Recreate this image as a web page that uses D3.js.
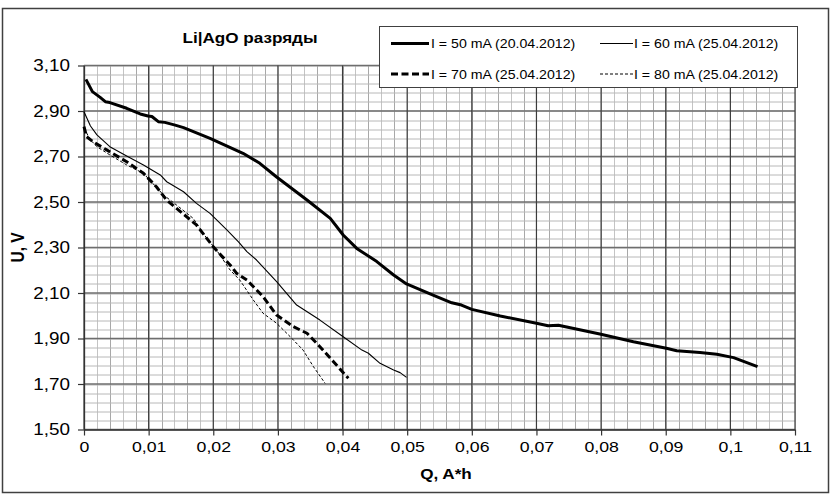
<!DOCTYPE html>
<html>
<head>
<meta charset="utf-8">
<script src="https://cdn.jsdelivr.net/npm/d3@7"></script>
<style>
  body { margin: 0; background: #fff; }
  text { font-family: Arial, "Liberation Sans", sans-serif; fill: #000; }
</style>
</head>
<body>
<div id="vis"></div>
<script>

const FRAME_WIDTH = 831;
const FRAME_HEIGHT = 495;
const MARGINS = {left: 84, right: 36, top: 65.5, bottom: 65.5};
const VIS_WIDTH = FRAME_WIDTH - MARGINS.left - MARGINS.right;
const VIS_HEIGHT = FRAME_HEIGHT - MARGINS.top - MARGINS.bottom;

// text in the picture looks stretched sideways a bit
const SX = 1.18;

// data: Q (A*h) and U (V) per discharge
const q50 = [0.0003, 0.0013, 0.0025, 0.0033, 0.0040, 0.0066, 0.0087, 0.0099, 0.0105, 0.0115,
             0.0125, 0.0141, 0.0154, 0.0195, 0.0246, 0.0272, 0.0298, 0.0345, 0.0381, 0.0401,
             0.0422, 0.0453, 0.0479, 0.0499, 0.0540, 0.0569, 0.0584, 0.0600, 0.0644, 0.0700,
             0.0718, 0.0734, 0.0798, 0.0850, 0.0901, 0.0917, 0.0953, 0.0979, 0.1005, 0.1042];
const u50 = [3.039, 2.985, 2.960, 2.941, 2.937, 2.912, 2.887, 2.878, 2.876, 2.853,
             2.850, 2.838, 2.827, 2.780, 2.714, 2.670, 2.610, 2.509, 2.428, 2.355,
             2.296, 2.238, 2.179, 2.140, 2.091, 2.057, 2.047, 2.028, 1.999, 1.967,
             1.956, 1.958, 1.920, 1.886, 1.857, 1.846, 1.838, 1.831, 1.816, 1.776];

const q60 = [0.0000, 0.0010, 0.0020, 0.0040, 0.0066, 0.0092, 0.0118, 0.0128, 0.0154, 0.0174,
             0.0195, 0.0221, 0.0239, 0.0252, 0.0267, 0.0298, 0.0329, 0.0365, 0.0401, 0.0430,
             0.0440, 0.0458, 0.0479, 0.0489, 0.0499];
const u60 = [2.897, 2.834, 2.795, 2.743, 2.702, 2.663, 2.619, 2.589, 2.545, 2.494,
             2.450, 2.377, 2.325, 2.282, 2.245, 2.150, 2.047, 1.981, 1.908, 1.849,
             1.835, 1.791, 1.762, 1.750, 1.729];

const q70 = [0.0000, 0.0004, 0.0014, 0.0035, 0.0066, 0.0092, 0.0112, 0.0128, 0.0159, 0.0174,
             0.0200, 0.0226, 0.0236, 0.0252, 0.0277, 0.0298, 0.0324, 0.0345, 0.0365, 0.0386,
             0.0409];
const u70 = [2.831, 2.787, 2.765, 2.729, 2.677, 2.626, 2.567, 2.508, 2.435, 2.399,
             2.303, 2.223, 2.187, 2.157, 2.084, 2.003, 1.952, 1.923, 1.864, 1.798,
             1.725];

const q80 = [0.0000, 0.0010, 0.0020, 0.0040, 0.0066, 0.0092, 0.0123, 0.0143, 0.0169, 0.0190,
             0.0205, 0.0226, 0.0241, 0.0262, 0.0277, 0.0298, 0.0319, 0.0339, 0.0355, 0.0373];
const u80 = [2.824, 2.773, 2.743, 2.707, 2.663, 2.626, 2.531, 2.487, 2.428, 2.340,
             2.289, 2.201, 2.157, 2.069, 2.011, 1.967, 1.908, 1.849, 1.776, 1.703];

const seriesNames = ["I = 50 mA (20.04.2012)", "I = 60 mA (25.04.2012)",
                     "I = 70 mA (25.04.2012)", "I = 80 mA (25.04.2012)"];

const xTicks = [0, 0.01, 0.02, 0.03, 0.04, 0.05, 0.06, 0.07, 0.08, 0.09, 0.1, 0.11];
const xTickLabels = ["0", "0,01", "0,02", "0,03", "0,04", "0,05", "0,06", "0,07", "0,08", "0,09", "0,1", "0,11"];
const yTicks = [1.5, 1.7, 1.9, 2.1, 2.3, 2.5, 2.7, 2.9, 3.1];
const yTickLabels = ["1,50", "1,70", "1,90", "2,10", "2,30", "2,50", "2,70", "2,90", "3,10"];

// line styles for each series (width, dash)
const STYLES = [
  {width: 3, dash: null},
  {width: 1.1, dash: null},
  {width: 3, dash: "7,3.5"},
  {width: 1, dash: "3,2"}
];

const SERIES = [[q50, u50], [q60, u60], [q70, u70], [q80, u80]].map((s, i) => {
  return {name: seriesNames[i], points: s[0].map((q, j) => [q, s[1][j]]), style: STYLES[i]};
});

const FRAME = d3.select("#vis")
                .append("svg")
                  .attr("width", FRAME_WIDTH)
                  .attr("height", FRAME_HEIGHT);

// outer border
FRAME.append("rect")
      .attr("x", 2.5)
      .attr("y", 8.5)
      .attr("width", 826)
      .attr("height", 484)
      .attr("fill", "#fff")
      .attr("stroke", "#404040")
      .attr("stroke-width", 1.5);

const X_SCALE = d3.scaleLinear()
                  .domain([0, 0.11])
                  .range([0, VIS_WIDTH]);

const Y_SCALE = d3.scaleLinear()
                  .domain([1.5, 3.1])
                  .range([VIS_HEIGHT, 0]);

const PLOT = FRAME.append("g")
                  .attr("transform", "translate(" + MARGINS.left + "," + MARGINS.top + ")");

// minor grid
const minorX = d3.range(0, 56).map((i) => i * 0.002);
const minorY = d3.range(0, 41).map((i) => 1.5 + i * 0.04);

PLOT.selectAll(".minx")
    .data(minorX)
    .enter()
    .append("line")
      .attr("x1", (d) => Math.round(X_SCALE(d)) + 0.5)
      .attr("x2", (d) => Math.round(X_SCALE(d)) + 0.5)
      .attr("y1", 0)
      .attr("y2", VIS_HEIGHT)
      .attr("stroke", (d, i) => i % 2 ? "#c4c4c4" : "#a8a8a8")
      .attr("stroke-width", 1);

PLOT.selectAll(".miny")
    .data(minorY)
    .enter()
    .append("line")
      .attr("x1", 0)
      .attr("x2", VIS_WIDTH)
      .attr("y1", (d) => Math.round(Y_SCALE(d)) + 0.5)
      .attr("y2", (d) => Math.round(Y_SCALE(d)) + 0.5)
      .attr("stroke", "#b8b8b8")
      .attr("stroke-width", 1);

// major grid
PLOT.selectAll(".majy")
    .data(yTicks)
    .enter()
    .append("line")
      .attr("x1", 0)
      .attr("x2", VIS_WIDTH)
      .attr("y1", (d) => Y_SCALE(d))
      .attr("y2", (d) => Y_SCALE(d))
      .attr("stroke", "#6e6e6e")
      .attr("stroke-width", 1.3);

PLOT.selectAll(".majx")
    .data(xTicks)
    .enter()
    .append("line")
      .attr("x1", (d) => X_SCALE(d))
      .attr("x2", (d) => X_SCALE(d))
      .attr("y1", 0)
      .attr("y2", VIS_HEIGHT)
      .attr("stroke", "#3c3c3c")
      .attr("stroke-width", 1.2);

// axes
const xAxis = PLOT.append("g")
      .attr("transform", "translate(0," + VIS_HEIGHT + ")")
      .call(d3.axisBottom(X_SCALE).tickValues(xTicks)
              .tickFormat((d, i) => xTickLabels[i]).tickSize(6).tickSizeOuter(0));

const yAxis = PLOT.append("g")
      .call(d3.axisLeft(Y_SCALE).tickValues(yTicks)
              .tickFormat((d, i) => yTickLabels[i]).tickSize(6).tickSizeOuter(0));

[xAxis, yAxis].forEach((ax) => {
  ax.select(".domain").attr("stroke", "#333").attr("stroke-width", 1.3);
  ax.selectAll(".tick line").attr("stroke", "#333").attr("stroke-width", 1.2);
});

xAxis.selectAll(".tick text")
      .attr("font-size", "15px")
      .attr("y", 23)
      .attr("dy", 0)
      .attr("transform", "scale(" + SX + ",1)");

yAxis.selectAll(".tick text")
      .attr("font-size", "16px")
      .attr("x", -14 / SX)
      .attr("transform", "scale(" + SX + ",1)");

// the lines
const line = d3.line()
               .x((d) => X_SCALE(d[0]))
               .y((d) => Y_SCALE(d[1]));

PLOT.selectAll(".series")
    .data(SERIES)
    .enter()
    .append("path")
      .attr("d", (d) => line(d.points))
      .attr("fill", "none")
      .attr("stroke", "#000")
      .attr("stroke-width", (d) => d.style.width)
      .attr("stroke-dasharray", (d) => d.style.dash)
      .attr("stroke-linejoin", "round");

// title and axis titles
FRAME.append("g")
      .attr("transform", "translate(250,43) scale(" + SX + ",1)")
    .append("text")
      .attr("text-anchor", "middle")
      .attr("font-size", "14.5px")
      .attr("font-weight", "bold")
      .text("Li|AgO разряды");

FRAME.append("g")
      .attr("transform", "translate(446,479) scale(" + SX + ",1)")
    .append("text")
      .attr("text-anchor", "middle")
      .attr("font-size", "14.5px")
      .attr("font-weight", "bold")
      .text("Q, A*h");

FRAME.append("g")
      .attr("transform", "translate(24,247.5) scale(" + SX + ",1) rotate(-90)")
    .append("text")
      .attr("text-anchor", "middle")
      .attr("font-size", "15.5px")
      .attr("font-weight", "bold")
      .text("U, V");

// legend
const LEGEND = FRAME.append("g");

LEGEND.append("rect")
      .attr("x", 379.5)
      .attr("y", 26.5)
      .attr("width", 418)
      .attr("height", 61)
      .attr("fill", "#fff")
      .attr("stroke", "#404040")
      .attr("stroke-width", 1);

const legendPos = [[391, 43.5], [600, 43.5], [391, 74], [600, 74]];

const items = LEGEND.selectAll(".item")
    .data(SERIES)
    .enter()
    .append("g")
      .attr("transform", (d, i) => "translate(" + legendPos[i][0] + "," + legendPos[i][1] + ")");

items.append("line")
      .attr("x1", 0)
      .attr("x2", (d, i) => i % 2 === 0 ? 38 : 33)
      .attr("y1", 0)
      .attr("y2", 0)
      .attr("stroke", "#000")
      .attr("stroke-width", (d) => d.style.width)
      .attr("stroke-dasharray", (d) => d.style.dash);

items.append("g")
      .attr("transform", (d, i) => "translate(" + (i % 2 === 0 ? 40 : 34) + ",4.5) scale(" + SX + ",1)")
    .append("text")
      .attr("font-size", "12px")
      .text((d) => d.name);

</script>
</body>
</html>
